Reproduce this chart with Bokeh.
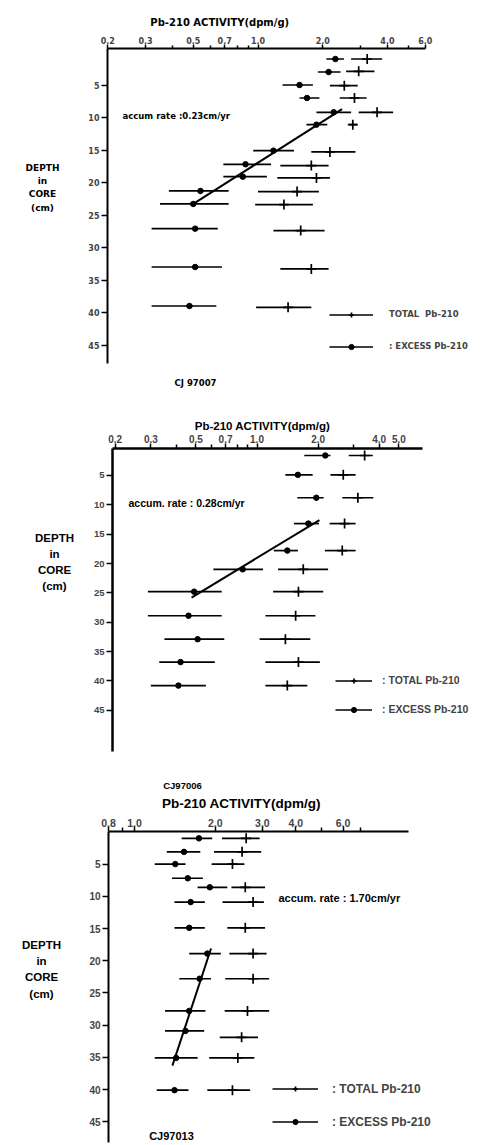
import numpy as np
from bokeh.plotting import figure
from bokeh.models import (Range1d, FixedTicker, CustomJSTickFormatter, Label,
                          Legend, LegendItem)
from bokeh.layouts import column
from bokeh.embed import file_html
from bokeh.resources import INLINE

# ---------------- CJ97007 ----------------
c1_ex_depth = [1.0, 3.0, 5.0, 7.0, 9.2, 11.1, 15.1, 17.2, 19.1, 21.3, 23.3, 27.1, 33.0, 39.0]
c1_ex_val = [2.29, 2.13, 1.56, 1.69, 2.25, 1.87, 1.18, 0.875, 0.85, 0.54, 0.50, 0.51, 0.51, 0.48]
c1_ex_lo = [2.08, 1.90, 1.30, 1.56, 1.87, 1.68, 0.95, 0.69, 0.69, 0.385, 0.35, 0.32, 0.32, 0.32]
c1_ex_hi = [2.51, 2.42, 1.80, 1.93, 2.71, 2.10, 1.47, 1.15, 1.10, 0.73, 0.73, 0.65, 0.68, 0.64]
c1_tot_depth = [1.0, 2.9, 5.1, 7.0, 9.2, 11.1, 15.3, 17.4, 19.3, 21.4, 23.4, 27.4, 33.3, 39.2]
c1_tot_val = [3.22, 2.94, 2.52, 2.81, 3.58, 2.76, 2.16, 1.77, 1.87, 1.52, 1.32, 1.58, 1.77, 1.38]
c1_tot_lo = [2.71, 2.57, 2.16, 2.40, 2.94, 2.65, 1.77, 1.27, 1.23, 1.00, 0.97, 1.18, 1.27, 0.98]
c1_tot_hi = [3.78, 3.48, 2.91, 3.20, 4.25, 2.89, 2.84, 2.13, 2.16, 1.92, 1.80, 2.04, 2.13, 1.77]
c1_fit_val = [2.46, 0.50]
c1_fit_depth = [8.7, 23.3]

# ---------------- CJ97006 ----------------
c2_ex_depth = [1.6, 4.9, 8.8, 13.2, 17.8, 21.0, 24.8, 28.9, 32.9, 36.8, 40.8]
c2_ex_val = [2.17, 1.59, 1.96, 1.79, 1.41, 0.85, 0.49, 0.46, 0.51, 0.42, 0.41]
c2_ex_lo = [1.71, 1.38, 1.58, 1.52, 1.21, 0.61, 0.29, 0.29, 0.35, 0.33, 0.30]
c2_ex_hi = [2.30, 1.88, 2.13, 2.02, 1.59, 1.07, 0.67, 0.67, 0.69, 0.62, 0.56]
c2_tot_depth = [1.6, 4.9, 8.8, 13.2, 17.8, 21.0, 24.8, 28.9, 32.9, 36.8, 40.8]
c2_tot_val = [3.39, 2.66, 3.14, 2.70, 2.63, 1.69, 1.60, 1.55, 1.38, 1.60, 1.41]
c2_tot_lo = [2.83, 2.30, 2.63, 2.28, 2.16, 1.27, 1.20, 1.10, 1.03, 1.10, 1.10]
c2_tot_hi = [3.72, 3.06, 3.74, 3.06, 3.06, 2.24, 2.12, 1.94, 1.83, 2.04, 1.77]
c2_fit_val = [2.03, 0.476]
c2_fit_depth = [12.6, 25.8]

# ---------------- CJ97013 ----------------
c3_ex_depth = [1.0, 3.1, 5.0, 7.2, 8.6, 10.9, 14.9, 18.9, 22.8, 27.8, 30.9, 35.1, 40.1]
c3_ex_val = [1.74, 1.53, 1.42, 1.58, 1.91, 1.62, 1.60, 1.87, 1.75, 1.60, 1.55, 1.43, 1.41]
c3_ex_lo = [1.50, 1.32, 1.19, 1.38, 1.72, 1.41, 1.41, 1.60, 1.47, 1.30, 1.30, 1.19, 1.21]
c3_ex_hi = [1.95, 1.76, 1.55, 1.80, 2.22, 1.83, 1.83, 2.10, 1.93, 1.84, 1.82, 1.72, 1.59]
c3_tot_depth = [1.0, 3.1, 5.0, 8.6, 10.9, 14.9, 18.9, 22.8, 27.8, 31.9, 35.1, 40.1]
c3_tot_val = [2.61, 2.52, 2.32, 2.59, 2.77, 2.59, 2.77, 2.77, 2.64, 2.51, 2.43, 2.32]
c3_tot_lo = [2.12, 1.98, 1.94, 2.30, 2.13, 2.22, 2.26, 2.18, 2.17, 2.08, 1.90, 1.87]
c3_tot_hi = [2.93, 2.97, 2.57, 3.07, 3.04, 3.07, 3.11, 3.18, 3.18, 2.89, 2.80, 2.70]
c3_fit_val = [1.93, 1.385]
c3_fit_depth = [18.1, 36.3]

# tick values
c1_xticks = [0.2, 0.3, 0.5, 0.7, 1.0, 2.0, 4.0, 6.0]
c1_xminor = [0.4, 0.6, 0.8, 0.9, 3.0, 5.0]
c2_xticks = [0.2, 0.3, 0.5, 0.7, 1.0, 2.0, 4.0, 5.0]
c2_xminor = [0.4, 0.6, 0.8, 0.9, 3.0]
c3_xticks = [0.8, 1.0, 2.0, 3.0, 4.0, 6.0]
c3_xminor = [0.9, 5.0, 7.0]
depth_ticks = [5, 10, 15, 20, 25, 30, 35, 40, 45]

FONT_A = "DejaVu Sans"
FONT_B = "Liberation Sans"
W = 478


def mappers(g):
    fx = lambda px: 10 ** ((px - g["x1"]) / g["xdec"])
    fy = lambda py: (py - g["y0"]) / g["ypcm"]
    return fx, fy


def build(g, ex, tot, fit, xticks, xminor, st, legend_labels, leg):
    fx, fy = mappers(g)
    p = figure(width=W, height=g["fig_bottom"] - g["fig_top"],
               x_axis_type="log", x_axis_location="above",
               x_range=Range1d(fx(g["fl"]), fx(W)),
               y_range=Range1d(fy(g["fb"]), fy(g["ft"])),
               min_border_top=g["ft"] - g["fig_top"],
               min_border_bottom=0, min_border_left=g["fl"], min_border_right=0,
               output_backend="svg", toolbar_location=None, title=None)
    p.outline_line_color = None
    p.xgrid.visible = False
    p.ygrid.visible = False
    p.background_fill_color = "white"
    p.border_fill_color = "white"

    xa = p.xaxis[0]
    xa.ticker = FixedTicker(ticks=xticks, minor_ticks=xminor)
    xa.formatter = CustomJSTickFormatter(code="return tick.toFixed(1);")
    xa.bounds = (fx(g["al"]), fx(g["ar"]))
    if g["at"] > g["ft"]:
        xa.fixed_location = fy(g["at"])
    xa.axis_line_width = st["axw"]
    xa.major_tick_line_width = 1.5
    xa.minor_tick_line_width = 1.5
    xa.major_tick_out = st["xtick"]
    xa.major_tick_in = 0
    xa.minor_tick_out = st["xtick"] - 1
    xa.minor_tick_in = 0
    xa.major_label_standoff = st["xstand"]
    xa.major_label_text_font = st["font"]
    xa.major_label_text_font_style = "bold"
    xa.major_label_text_font_size = st["xlab"]

    ya = p.yaxis[0]
    ya.ticker = FixedTicker(ticks=depth_ticks, minor_ticks=[])
    ya.bounds = (min(fy(g["at"]), fy(g["ab"])), max(fy(g["at"]), fy(g["ab"])))
    ya.fixed_location = fx(g["al"])
    ya.axis_line_width = st["axw"]
    ya.major_tick_line_width = 1.5
    ya.major_tick_out = 6
    ya.major_tick_in = 0
    ya.minor_tick_out = 0
    ya.major_label_standoff = 2
    ya.major_label_text_font = st["font"]
    ya.major_label_text_font_style = "bold"
    ya.major_label_text_font_size = st["ylab"]

    seg_ex = p.segment(x0=ex[2], y0=ex[0], x1=ex[3], y1=ex[0],
                       line_color="black", line_width=1.7)
    sc_ex = p.scatter(ex[1], ex[0], marker="circle", size=5.5,
                      fill_color="black", line_color="black")
    seg_tot = p.segment(x0=tot[2], y0=tot[0], x1=tot[3], y1=tot[0],
                        line_color="black", line_width=1.7)
    sc_tot = p.scatter(tot[1], tot[0], marker="cross", size=10,
                       line_color="black", line_width=1.7)
    p.line(fit[0], fit[1], line_color="black", line_width=2)

    gh = 13
    legend = Legend(items=[LegendItem(label=legend_labels[0], renderers=[seg_tot, sc_tot]),
                           LegendItem(label=legend_labels[1], renderers=[seg_ex, sc_ex])],
                    location=(leg["left"] - g["fl"], g["fb"] - leg["bottom"]),
                    glyph_width=leg["gw"], glyph_height=gh, label_height=gh,
                    spacing=leg["sp"], label_standoff=leg["ls"],
                    padding=0, margin=0, border_line_color=None,
                    background_fill_alpha=0,
                    label_text_font=st["font"], label_text_font_style="bold",
                    label_text_font_size=leg["fs"])
    p.add_layout(legend)
    return p


def add_texts(p, g, font, texts):
    fx, fy = mappers(g)
    for (txt, px, py, size, align) in texts:
        p.add_layout(Label(x=fx(px), y=fy(py), text=txt, text_align=align,
                           text_baseline="middle", text_font=font,
                           text_font_style="bold", text_font_size=size,
                           text_color="black"))


# geometry in page pixels: figure extent, frame, axis corner positions, scale
G1 = dict(fig_top=0, fig_bottom=398, ft=16, fb=398, fl=21,
          at=48, ab=363, al=107, ar=425,
          x1=257.5, xdec=215, y0=52, ypcm=6.5)
G2 = dict(fig_top=398, fig_bottom=812, ft=416, fb=812, fl=21,
          at=448, ab=751, al=112, ar=422,
          x1=256.5, xdec=203, y0=445.6, ypcm=5.87)
G3 = dict(fig_top=812, fig_bottom=1143, ft=831, fb=1143, fl=21,
          at=831, ab=1142, al=108, ar=408,
          x1=134, xdec=268, y0=831.4, ypcm=6.44)

S1 = dict(font=FONT_A, axw=2, xtick=4, xstand=1, xlab="8px", ylab="8px")
S2 = dict(font=FONT_B, axw=2.5, xtick=5, xstand=1, xlab="10px", ylab="9.5px")
S3 = dict(font=FONT_B, axw=2, xtick=5, xstand=0, xlab="10.5px", ylab="10px")

L1 = dict(left=329, bottom=352.5, gw=44, sp=19, ls=16, fs="8.5px")
L2 = dict(left=335, bottom=715.5, gw=37, sp=16, ls=10, fs="10.5px")
L3 = dict(left=272, bottom=1128.5, gw=46, sp=19, ls=14, fs="12px")

p1 = build(G1, (c1_ex_depth, c1_ex_val, c1_ex_lo, c1_ex_hi),
           (c1_tot_depth, c1_tot_val, c1_tot_lo, c1_tot_hi),
           (c1_fit_val, c1_fit_depth), c1_xticks, c1_xminor, S1,
           ["TOTAL  Pb-210", ": EXCESS Pb-210"], L1)
p2 = build(G2, (c2_ex_depth, c2_ex_val, c2_ex_lo, c2_ex_hi),
           (c2_tot_depth, c2_tot_val, c2_tot_lo, c2_tot_hi),
           (c2_fit_val, c2_fit_depth), c2_xticks, c2_xminor, S2,
           [": TOTAL Pb-210", ": EXCESS Pb-210"], L2)
p3 = build(G3, (c3_ex_depth, c3_ex_val, c3_ex_lo, c3_ex_hi),
           (c3_tot_depth, c3_tot_val, c3_tot_lo, c3_tot_hi),
           (c3_fit_val, c3_fit_depth), c3_xticks, c3_xminor, S3,
           [": TOTAL Pb-210", ": EXCESS Pb-210"], L3)

add_texts(p1, G1, FONT_A, [
    ("Pb-210  ACTIVITY(dpm/g)", 221, 22, "10px", "center"),
    ("DEPTH", 42, 167, "9px", "center"), ("in", 42, 180, "9px", "center"),
    ("CORE", 42, 193, "9px", "center"), ("(cm)", 42, 207, "9px", "center"),
    ("accum  rate :0.23cm/yr", 122, 115, "8.5px", "left"),
    ("CJ 97007", 195, 382, "8.5px", "center")])
add_texts(p2, G2, FONT_B, [
    ("Pb-210 ACTIVITY(dpm/g)", 262, 425, "11.5px", "center"),
    ("DEPTH", 54, 537, "11.5px", "center"), ("in", 54, 553, "11.5px", "center"),
    ("CORE", 54, 569, "11.5px", "center"), ("(cm)", 54, 585, "11.5px", "center"),
    ("accum. rate : 0.28cm/yr", 128, 502, "10.5px", "left"),
    ("CJ97006", 182, 785, "9.5px", "center"),
    ("Pb-210 ACTIVITY(dpm/g)", 241, 803, "13.5px", "center")])
add_texts(p3, G3, FONT_B, [
    ("DEPTH", 41, 944, "11.5px", "center"), ("in", 41, 960, "11.5px", "center"),
    ("CORE", 41, 976, "11.5px", "center"), ("(cm)", 41, 993, "11.5px", "center"),
    ("accum. rate : 1.70cm/yr", 278, 897, "11px", "left"),
    ("CJ97013", 171, 1135, "11px", "center")])

layout = column(p1, p2, p3, spacing=0)
open("out.html", "w").write(file_html(layout, INLINE))
